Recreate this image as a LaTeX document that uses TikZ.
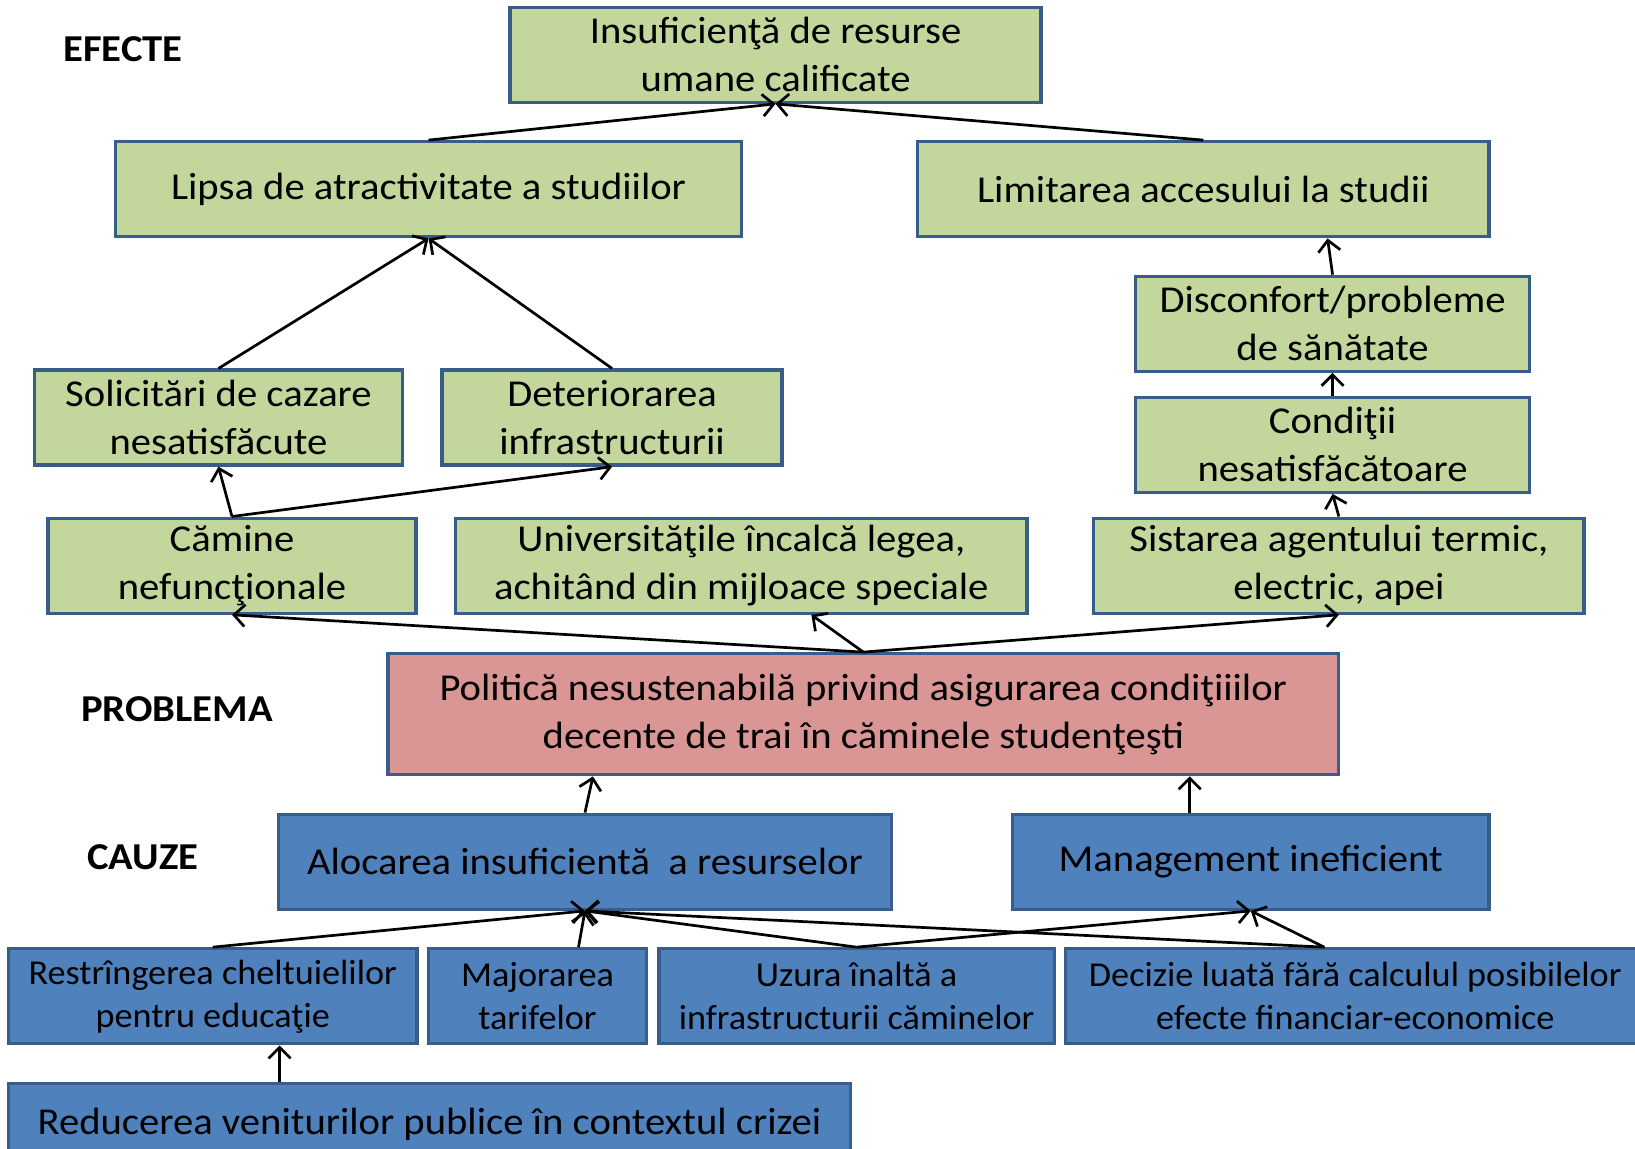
\documentclass[tikz,border=0pt]{standalone}
\usepackage{fontspec}
\setmainfont{Carlito}[FakeStretch=1.07]
\newfontfamily\smallfam{Carlito}[FakeStretch=1.035]
\usetikzlibrary{arrows.meta,calc}
\definecolor{gfill}{HTML}{C3D69B}
\definecolor{pfill}{HTML}{D99694}
\definecolor{bfill}{HTML}{4F81BD}
\definecolor{bline}{HTML}{385D8A}
\tikzset{
  bx/.style={draw=bline, line width=3.3pt, inner sep=0pt, align=center, anchor=center,
    font=\fontsize{38}{48}\selectfont},
  gbox/.style={bx, fill=gfill},
  pbox/.style={bx, fill=pfill},
  bbox/.style={bx, fill=bfill},
  sbox/.style={bx, fill=bfill, font=\smallfam\fontsize{35}{43}\selectfont},
  lbl/.style={font=\fontsize{38}{46}\selectfont\bfseries},
  conn/.style={line width=2.7pt, -{Straight Barb[length=11pt,width=22pt,line width=2.7pt]}}
}
\begin{document}
\begin{tikzpicture}[x=1pt,y=-1pt]
\useasboundingbox (0,0) rectangle (1635,1148);
\clip (0,0) rectangle (1635,1148);
% labels
\node[lbl] (lefecte) at (123,49) {EFECTE};
\node[lbl] (lproblema) at (177,709) {PROBLEMA};
\node[lbl] (lcauze) at (143,857) {CAUZE};
% effects
\node[gbox, minimum width=531pt, minimum height=95pt] (insuf) at (775.5,54.75) {Insuficienţă de resurse\\umane calificate};
\node[gbox, minimum width=625.7pt, minimum height=95pt] (lipsa) at (428.55,189.25) {Lipsa de atractivitate a studiilor};
\node[gbox, minimum width=571.4pt, minimum height=95pt] (limit) at (1203.3,189.25) {Limitarea accesului la studii};
\node[gbox, minimum width=394.1pt, minimum height=95pt] (disc) at (1332.55,323.75) {Disconfort/probleme\\de sănătate};
\node[gbox, minimum width=394.1pt, minimum height=95pt] (cond) at (1332.55,444.75) {Condiţii\\nesatisfăcătoare};
\node[gbox, minimum width=368.1pt, minimum height=95pt] (solic) at (218.45,417.6) {Solicitări de cazare\\nesatisfăcute};
\node[gbox, minimum width=339.9pt, minimum height=95pt] (deter) at (612.05,417.6) {Deteriorarea\\infrastructurii};
\node[gbox, minimum width=368pt, minimum height=95pt] (camine) at (232,565.65) {Cămine\\nefuncţionale};
\node[gbox, minimum width=571.3pt, minimum height=95pt] (univ) at (741.35,565.65) {Universităţile încalcă legea,\\achitând din mijloace speciale};
\node[gbox, minimum width=490.1pt, minimum height=95pt] (sist) at (1338.85,565.65) {Sistarea agentului termic,\\electric, apei};
% problem
\node[pbox, minimum width=950.9pt, minimum height=121pt] (pol) at (863.35,714.25) {Politică nesustenabilă privind asigurarea condiţiiilor\\decente de trai în căminele studenţeşti};
% causes
\node[bbox, minimum width=613.1pt, minimum height=95pt] (alo) at (584.95,861.75) {Alocarea insuficientă\ \ a resurselor};
\node[bbox, minimum width=476.5pt, minimum height=95pt] (man) at (1250.75,861.75) {Management ineficient};
\node[sbox, minimum width=408.8pt, minimum height=95pt] (restr) at (212.7,996.3) {Restrîngerea cheltuielilor\\pentru educaţie};
\node[sbox, minimum width=218pt, minimum height=95pt] (major) at (537.5,996.3) {Majorarea\\tarifelor};
\node[sbox, minimum width=395.2pt, minimum height=95pt] (uzura) at (856.6,996.3) {Uzura înaltă a\\infrastructurii căminelor};
\node[sbox, minimum width=579.4pt, minimum height=95pt] (dec) at (1355.3,996.3) {Decizie luată fără calculul posibilelor\\efecte financiar-economice};
\node[bbox, minimum width=842.5pt, minimum height=82pt] (reduc) at (429.55,1124.2) {Reducerea veniturilor publice în contextul crizei};
% connectors
\draw[conn] (lipsa.north) -- (insuf.south);
\draw[conn] (limit.north) -- (insuf.south);
\draw[conn] (solic.north) -- (lipsa.south);
\draw[conn] (deter.north) -- (lipsa.south);
\draw[conn] (disc.north) -- ([xshift=-5pt]disc.north |- limit.south);
\draw[conn] (cond.north) -- (disc.south);
\draw[conn] (sist.north) -- (cond.south);
\draw[conn] (camine.north) -- (solic.south);
\draw[conn] (camine.north) -- (deter.south);
\draw[conn] (pol.north) -- (camine.south);
\draw[conn] (pol.north) -- ([xshift=70pt]univ.south);
\draw[conn] (pol.north) -- (sist.south);
\draw[conn] (alo.north) -- ([xshift=8pt]alo.north |- pol.south);
\draw[conn] ([xshift=-61pt]man.north) -- ([xshift=-61pt]man.north |- pol.south);
\draw[conn] (restr.north) -- (alo.south);
\draw[conn] ([xshift=41pt]major.north) -- (alo.south);
\draw[conn] (uzura.north) -- (alo.south);
\draw[conn] (uzura.north) -- (man.south);
\draw[conn] ([xshift=-31pt]dec.north) -- (alo.south);
\draw[conn] ([xshift=-31pt]dec.north) -- (man.south);
\draw[conn] ([xshift=-150pt]reduc.north) -- ([xshift=-150pt]reduc.north |- restr.south);
\end{tikzpicture}
\end{document}
